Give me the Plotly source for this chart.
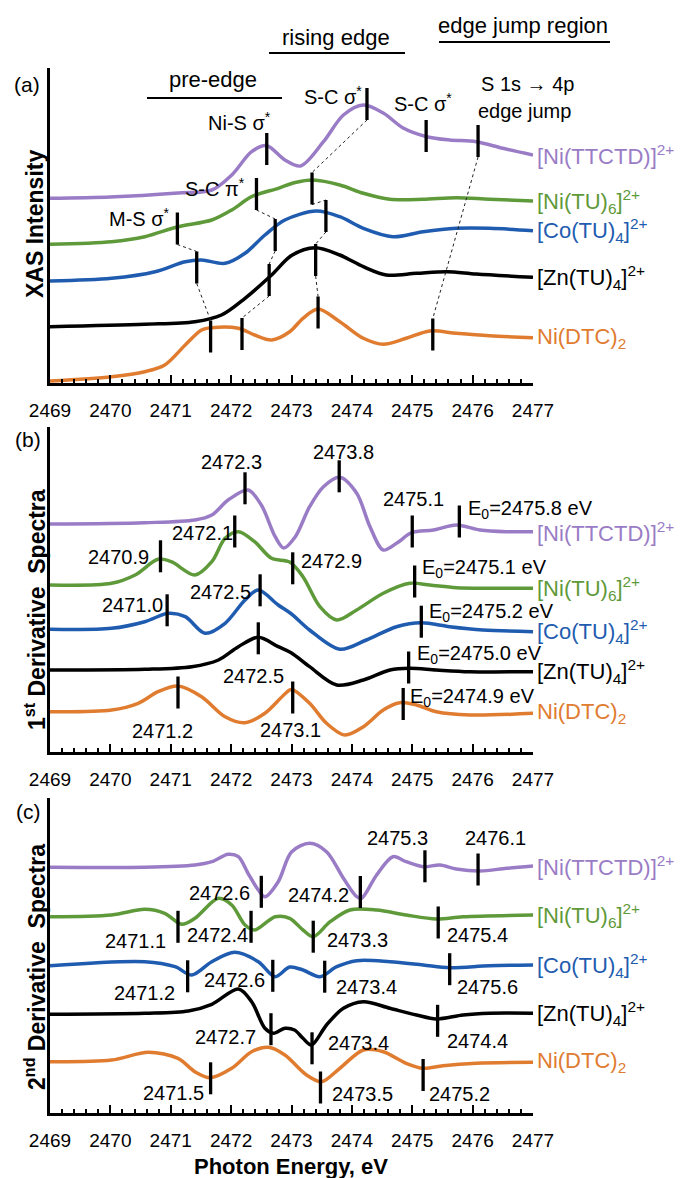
import plotly.graph_objects as go

# ---------------- data ----------------
energy_ticks = [2469, 2470, 2471, 2472, 2473, 2474, 2475, 2476, 2477]
compounds = ["[Ni(TTCTD)]<sup>2+</sup>", "[Ni(TU)<sub>6</sub>]<sup>2+</sup>",
             "[Co(TU)<sub>4</sub>]<sup>2+</sup>", "[Zn(TU)<sub>4</sub>]<sup>2+</sup>",
             "Ni(DTC)<sub>2</sub>"]
colors = ["#9a7cc6", "#5f9a3a", "#1f5cb0", "#000000", "#e07c30"]

# (a) XAS spectra (offset, arbitrary units)
a_ttctd_E = [2469.0, 2470.0, 2471.12, 2471.68, 2472.01, 2472.34, 2472.59, 2472.89, 2473.15, 2473.53,
             2473.86, 2474.19, 2474.52, 2474.85, 2475.24, 2475.62, 2476.06, 2476.5, 2477.0]
a_ttctd_I = [18.47, 18.6, 19.0, 19.3, 20.8, 23.13, 23.73, 22.3, 21.7, 24.13,
             26.8, 27.8, 27.0, 25.5, 24.63, 24.3, 24.13, 23.47, 22.8]
a_nitu_E = [2469.0, 2470.02, 2470.57, 2471.12, 2471.68, 2472.01, 2472.34, 2472.78, 2473.06, 2473.36,
            2473.80, 2474.19, 2474.63, 2475.18, 2475.73, 2476.28, 2477.0]
a_nitu_I = [13.87, 14.13, 14.63, 15.63, 16.3, 17.3, 18.63, 19.47, 20.05, 20.3,
            19.8, 18.97, 18.37, 18.37, 18.53, 18.37, 18.2]
a_cotu_E = [2469.0, 2470.02, 2470.74, 2471.24, 2471.51, 2471.90, 2472.23, 2472.56, 2472.89, 2473.41,
            2473.80, 2474.19, 2474.68, 2475.18, 2475.73, 2476.28, 2477.0]
a_cotu_I = [10.2, 10.47, 11.13, 12.13, 12.3, 11.97, 12.97, 14.8, 16.3, 17.2,
            16.63, 15.47, 14.63, 15.13, 15.47, 15.47, 15.23]
a_zntu_E = [2469.0, 2470.57, 2471.40, 2471.84, 2472.23, 2472.67, 2473.0, 2473.39, 2473.80, 2474.19,
            2474.57, 2475.07, 2475.57, 2476.06, 2477.0]
a_zntu_I = [5.63, 5.87, 6.13, 6.8, 8.47, 10.8, 12.75, 13.53, 12.8, 11.63,
            10.8, 10.97, 11.13, 10.9, 10.57]
a_dtc_E = [2469.0, 2470.02, 2470.57, 2470.90, 2471.24, 2471.51, 2471.68, 2472.12, 2472.39, 2472.67,
           2472.97, 2473.19, 2473.44, 2473.80, 2474.19, 2474.52, 2474.90, 2475.29, 2475.73, 2476.28, 2477.0]
a_dtc_I = [0.2, 0.63, 1.13, 1.8, 3.8, 5.3, 5.53, 5.47, 4.8, 4.3,
           5.13, 6.47, 7.4, 6.13, 4.47, 3.87, 4.47, 5.2, 4.97, 4.73, 4.53]

# (b) 1st derivative spectra
b_ttctd_E = [2469.0, 2470.57, 2471.40, 2471.68, 2471.95, 2472.28, 2472.50, 2472.73, 2472.87, 2473.06,
             2473.30, 2473.53, 2473.80, 2474.08, 2474.30, 2474.52, 2474.74, 2474.99, 2475.35, 2475.73,
             2476.12, 2476.56, 2477.0]
b_ttctd_I = [22.8, 22.93, 23.2, 23.7, 25.2, 26.2, 24.7, 21.53, 20.4, 21.5,
             24.53, 26.53, 27.47, 25.87, 22.53, 20.2, 20.87, 21.93, 22.2, 22.7,
             22.2, 22.03, 22.03]
b_nitu_E = [2469.0, 2470.02, 2470.41, 2470.79, 2471.01, 2471.40, 2471.68, 2471.90, 2472.12, 2472.39,
            2472.67, 2472.97, 2473.19, 2473.47, 2473.75, 2474.08, 2474.52, 2474.96, 2475.29, 2475.73,
            2476.28, 2477.0]
b_nitu_I = [16.7, 16.87, 17.7, 19.27, 19.03, 17.7, 19.03, 21.37, 22.03, 21.03,
            19.37, 19.0, 17.53, 14.53, 13.2, 14.2, 15.87, 16.87, 16.7, 16.43,
            16.37, 16.37]
b_cotu_E = [2469.0, 2470.02, 2470.57, 2470.96, 2471.24, 2471.57, 2471.90, 2472.23, 2472.45, 2472.78,
            2473.0, 2473.30, 2473.80, 2474.24, 2474.74, 2475.15, 2475.62, 2476.17, 2477.0]
b_cotu_I = [12.27, 12.37, 13.03, 13.87, 13.53, 11.87, 12.87, 15.2, 16.2, 14.7,
            13.8, 12.2, 10.27, 11.2, 12.53, 12.93, 12.53, 12.2, 12.03]
b_zntu_E = [2469.0, 2470.57, 2471.35, 2471.79, 2472.12, 2472.45, 2472.78, 2473.0, 2473.30, 2473.75,
            2474.19, 2474.63, 2474.96, 2475.40, 2475.95, 2477.0]
b_zntu_I = [8.2, 8.27, 8.53, 9.2, 10.53, 11.47, 10.53, 9.9, 8.53, 6.7,
            7.2, 8.2, 8.37, 8.2, 8.03, 8.03]
b_dtc_E = [2469.0, 2470.02, 2470.46, 2470.79, 2471.12, 2471.51, 2471.90, 2472.23, 2472.56, 2472.89,
           2473.0, 2473.30, 2473.58, 2473.88, 2474.19, 2474.52, 2474.79, 2475.07, 2475.40, 2475.95, 2477.0]
b_dtc_I = [4.03, 4.2, 4.87, 6.03, 6.6, 5.53, 3.53, 2.93, 3.87, 5.8,
           6.25, 4.87, 2.87, 1.7, 2.53, 4.2, 4.93, 4.7, 4.03, 3.7, 3.87]

# (c) 2nd derivative spectra
c_ttctd_E = [2469.0, 2470.57, 2471.40, 2471.68, 2471.95, 2472.12, 2472.28, 2472.45, 2472.56, 2472.78,
             2473.0, 2473.30, 2473.58, 2473.86, 2474.08, 2474.16, 2474.41, 2474.68, 2474.90, 2475.18,
             2475.46, 2475.73, 2476.12, 2476.56, 2477.0]
c_ttctd_I = [24.57, 24.57, 24.8, 25.13, 25.87, 25.63, 23.97, 22.3, 21.63, 23.13,
             26.1, 26.97, 26.13, 23.47, 21.63, 21.47, 23.8, 25.63, 25.13, 24.63,
             24.8, 24.4, 24.2, 24.47, 24.7]
c_nitu_E = [2469.0, 2470.02, 2470.57, 2470.90, 2471.18, 2471.40, 2471.79, 2472.01, 2472.23, 2472.39,
            2472.73, 2472.97, 2473.19, 2473.36, 2473.64, 2473.97, 2474.41, 2474.90, 2475.40, 2475.84, 2477.0]
c_nitu_I = [19.63, 19.8, 20.37, 19.97, 18.87, 19.47, 21.47, 20.8, 18.8, 18.3,
            19.63, 19.47, 18.3, 17.63, 19.13, 20.3, 20.3, 19.8, 19.4, 19.63, 19.8]
c_cotu_E = [2469.0, 2470.57, 2471.07, 2471.35, 2471.68, 2472.06, 2472.45, 2472.73, 2472.97, 2473.19,
            2473.47, 2473.75, 2474.08, 2474.63, 2475.18, 2475.62, 2476.28, 2477.0]
c_cotu_I = [14.73, 15.13, 14.63, 13.8, 15.13, 16.07, 15.13, 13.63, 14.6, 14.3,
            13.63, 14.63, 15.23, 15.13, 14.8, 14.53, 14.73, 14.8]
c_zntu_E = [2469.0, 2470.57, 2471.29, 2471.68, 2472.12, 2472.34, 2472.56, 2472.70, 2472.89, 2473.05,
            2473.19, 2473.33, 2473.58, 2473.86, 2474.19, 2474.63, 2475.07, 2475.40, 2475.84, 2476.28, 2477.0]
c_zntu_I = [9.87, 9.97, 10.2, 10.87, 12.4, 11.13, 8.47, 7.97, 8.47, 8.3,
            7.47, 6.8, 8.8, 10.47, 11.13, 10.47, 9.8, 9.4, 9.8, 9.97, 9.97]
c_dtc_E = [2469.0, 2470.02, 2470.63, 2471.12, 2471.40, 2471.65, 2472.01, 2472.34, 2472.62, 2472.89,
           2473.25, 2473.50, 2473.80, 2474.19, 2474.52, 2474.90, 2475.18, 2475.51, 2476.06, 2477.0]
c_dtc_I = [5.13, 5.3, 6.07, 5.47, 4.13, 3.53, 4.47, 6.13, 6.57, 5.8,
           3.8, 3.13, 4.47, 6.3, 6.13, 4.97, 4.47, 4.73, 4.97, 5.07]

# feature markers: energy and vertical centre (same units as spectra)
a_mark_E = [2472.59, 2474.25, 2475.23, 2476.09, 2471.11, 2472.42, 2473.34, 2471.43, 2472.73, 2473.57,
            2472.63, 2473.40, 2471.66, 2472.18, 2473.44, 2475.34]
a_mark_y = [23.4, 27.9, 24.7, 24.2, 15.45, 18.9, 19.45, 11.55, 14.8, 16.7,
            10.3, 12.3, 4.65, 4.9, 7.05, 4.85]
# dotted correlation lines: (from marker bottom, to marker top)
a_links = [(4, 7), (7, 12), (5, 8), (8, 10), (10, 13), (1, 6), (6, 9), (9, 11), (11, 14), (3, 15)]

b_mark_E = [2472.23, 2473.79, 2475.0, 2475.78, 2470.83, 2472.06, 2473.02, 2475.04, 2470.94, 2472.48,
            2475.15, 2472.45, 2474.94, 2471.12, 2473.02, 2474.85]
b_mark_y = [26.37, 27.57, 22.05, 23.05, 19.57, 22.05, 18.37, 17.05, 14.17, 16.17,
            13.03, 11.37, 8.45, 5.95, 5.45, 4.8]

c_mark_E = [2472.50, 2474.14, 2475.21, 2476.09, 2471.12, 2472.33, 2473.36, 2475.43, 2471.28, 2472.69,
            2473.55, 2475.62, 2472.66, 2473.34, 2475.42, 2471.66, 2473.48, 2475.18]
c_mark_y = [22.12, 22.1, 24.67, 24.35, 18.62, 18.62, 17.63, 19.05, 13.67, 13.72,
            13.63, 14.38, 8.38, 6.47, 9.22, 3.47, 2.55, 3.8]

# ---------------- layout geometry ----------------
W, H = 680, 1178
L, R = 50, 533
PAN = {"a": (68, 383), "b": (427, 752), "c": (798, 1113)}
HALF = 1.6
FONT = "Liberation Sans, Arial, Helvetica, sans-serif"


def pxx(px):
    return (px - L) / (R - L)


def pxy(py):
    return (H - py) / H


fig = go.Figure()

panels = [
    ("a", "x", "y", [(a_ttctd_E, a_ttctd_I), (a_nitu_E, a_nitu_I), (a_cotu_E, a_cotu_I),
                     (a_zntu_E, a_zntu_I), (a_dtc_E, a_dtc_I)], a_mark_E, a_mark_y),
    ("b", "x2", "y2", [(b_ttctd_E, b_ttctd_I), (b_nitu_E, b_nitu_I), (b_cotu_E, b_cotu_I),
                       (b_zntu_E, b_zntu_I), (b_dtc_E, b_dtc_I)], b_mark_E, b_mark_y),
    ("c", "x3", "y3", [(c_ttctd_E, c_ttctd_I), (c_nitu_E, c_nitu_I), (c_cotu_E, c_cotu_I),
                       (c_zntu_E, c_zntu_I), (c_dtc_E, c_dtc_I)], c_mark_E, c_mark_y),
]

annotations = []
for key, xa, ya, series, mE, my in panels:
    for (E, I), col, name in zip(series, colors, compounds):
        fig.add_trace(go.Scatter(x=E, y=I, mode="lines", xaxis=xa, yaxis=ya,
                                 line=dict(color=col, width=3.5, shape="spline", smoothing=0.9),
                                 showlegend=False, hoverinfo="skip"))
        annotations.append(dict(text=name, xref="paper", x=pxx(535), xanchor="left",
                                yref=ya, y=I[-1], yanchor="middle", showarrow=False,
                                font=dict(size=22, color=col, family=FONT)))
    if key == "a":
        lx, ly = [], []
        for i, j in a_links:
            lx += [mE[i], mE[j], None]
            ly += [my[i] - HALF, my[j] + HALF, None]
        fig.add_trace(go.Scatter(x=lx, y=ly, mode="lines", xaxis=xa, yaxis=ya,
                                 line=dict(color="#222222", width=1, dash="dot"),
                                 showlegend=False, hoverinfo="skip"))
    mx, myy = [], []
    for e, c in zip(mE, my):
        mx += [e, e, None]
        myy += [c - HALF, c + HALF, None]
    fig.add_trace(go.Scatter(x=mx, y=myy, mode="lines", xaxis=xa, yaxis=ya,
                             line=dict(color="black", width=3.3),
                             showlegend=False, hoverinfo="skip"))

axis_common = dict(range=[2469, 2477], tickvals=energy_ticks, ticks="inside", ticklen=8,
                   tickwidth=2, tickcolor="black", showline=True, linewidth=3, linecolor="black",
                   showgrid=False, zeroline=False, tickfont=dict(size=19, color="black", family=FONT),
                   ticklabelstandoff=8, automargin=False,
                   minor=dict(dtick=0.2, ticks="inside", ticklen=4, tickwidth=1.5, tickcolor="black"))
yaxis_common = dict(showline=True, linewidth=3, linecolor="black", showgrid=False, zeroline=False,
                    showticklabels=False, ticks="", automargin=False)

layout = dict(width=W, height=H, margin=dict(l=L, r=W - R, t=0, b=0),
              plot_bgcolor="white", paper_bgcolor="white", showlegend=False)
for key, xa, ya in [("a", "x", "y"), ("b", "x2", "y2"), ("c", "x3", "y3")]:
    top, bot = PAN[key]
    xname = "xaxis" if xa == "x" else "xaxis" + xa[1:]
    yname = "yaxis" if ya == "y" else "yaxis" + ya[1:]
    layout[xname] = dict(axis_common, anchor=ya)
    layout[yname] = dict(yaxis_common, domain=[pxy(bot), pxy(top)], anchor=xa,
                         range=[0, (bot - top) / 10])
fig.update_layout(**layout)


def txt(text, px, py, size=20, anchor="center", bold=False, angle=0):
    annotations.append(dict(text=("<b>%s</b>" % text) if bold else text, xref="paper", yref="paper",
                            x=pxx(px), y=pxy(py), xanchor=anchor, yanchor="middle",
                            showarrow=False, textangle=angle,
                            font=dict(size=size, color="black", family=FONT)))


# panel (a) labels
txt("(a)", 27, 84, 21)
txt("pre-edge", 213, 80, 22)
txt("rising edge", 336, 37, 22)
txt("edge jump region", 523, 26, 22)
txt("Ni-S σ<sup>*</sup>", 239, 121)
txt("S-C σ<sup>*</sup>", 333, 95)
txt("S-C σ<sup>*</sup>", 423, 103)
txt("S 1s → 4p", 527, 84)
txt("edge jump", 524, 111)
txt("S-C π<sup>*</sup>", 215, 188)
txt("M-S σ<sup>*</sup>", 139, 217)

# panel (b) labels
txt("(b)", 28, 439, 21)
for t, x, y in [("2472.3", 231, 462), ("2473.8", 343, 452), ("2475.1", 413, 499), ("2472.1", 202, 533),
                ("2470.9", 118, 557), ("2472.9", 331, 561), ("2471.0", 132, 605), ("2472.5", 220, 592),
                ("2472.5", 253, 676), ("2471.2", 162, 731), ("2473.1", 290, 730)]:
    txt(t, x, y)
for t, x, y in [("2475.8", 466, 509), ("2475.1", 420, 569), ("2475.2", 427, 612),
                ("2475.0", 415, 654), ("2474.9", 408, 697)]:
    txt("E<sub>0</sub>=%s eV" % t, x, y, anchor="left")

# panel (c) labels
txt("(c)", 28, 811, 21)
for t, x, y in [("2475.3", 397, 838), ("2476.1", 495, 838), ("2472.6", 219, 893), ("2474.2", 318, 895),
                ("2471.1", 135, 941), ("2472.4", 217, 935), ("2473.3", 357, 940), ("2475.4", 477, 935),
                ("2471.2", 144, 993), ("2472.6", 234, 980), ("2473.4", 366, 987), ("2475.6", 487, 987),
                ("2472.7", 225, 1037), ("2473.4", 358, 1043), ("2474.4", 477, 1041),
                ("2471.5", 173, 1093), ("2473.5", 362, 1094), ("2475.2", 459, 1094)]:
    txt(t, x, y)

# axis titles
txt("XAS Intensity", 35, 224, 23, bold=True, angle=-90)
txt("1<sup>st</sup> Derivative  Spectra", 35, 610, 23, bold=True, angle=-90)
txt("2<sup>nd</sup> Derivative  Spectra", 35, 967, 23, bold=True, angle=-90)
txt("Photon Energy, eV", 291, 1166, 22, bold=True)

shapes = []
for x0, x1, y in [(147, 282, 98), (269, 405, 53), (439, 610, 42)]:
    shapes.append(dict(type="line", xref="paper", yref="paper", x0=pxx(x0), x1=pxx(x1),
                       y0=pxy(y), y1=pxy(y), line=dict(color="black", width=2)))

fig.update_layout(annotations=annotations, shapes=shapes)
fig.write_html("out.html", config={"displayModeBar": False},
               post_script="document.body.style.margin='0';document.body.style.padding='0';")
